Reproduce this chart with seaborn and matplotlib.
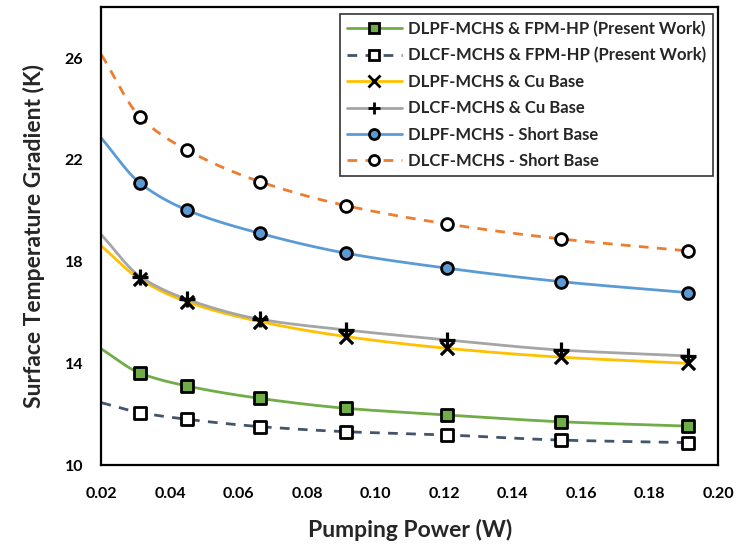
import numpy as np
import pandas as pd
import matplotlib
matplotlib.use("Agg")
import matplotlib.pyplot as plt
from matplotlib.lines import Line2D
import seaborn as sns

# Pumping power (W); the first value is where each curve begins (no marker)
power = [0.020, 0.0313, 0.0449, 0.0663, 0.0914, 0.1209, 0.1542, 0.1912]

# Surface temperature gradient (K) for each configuration
dlpf_fpm = [14.56, 13.61, 13.11, 12.62, 12.23, 11.97, 11.70, 11.53]
dlcf_fpm = [12.45, 12.06, 11.80, 11.51, 11.31, 11.18, 10.98, 10.88]
dlpf_cu = [18.61, 17.30, 16.42, 15.64, 15.05, 14.59, 14.24, 14.00]
dlcf_cu = [19.05, 17.41, 16.52, 15.73, 15.31, 14.92, 14.52, 14.29]
dlpf_short = [22.85, 21.08, 20.03, 19.11, 18.33, 17.74, 17.21, 16.78]
dlcf_short = [26.13, 23.68, 22.39, 21.14, 20.20, 19.48, 18.89, 18.42]

series_names = [
    "DLPF-MCHS & FPM-HP (Present Work)",
    "DLCF-MCHS & FPM-HP (Present Work)",
    "DLPF-MCHS & Cu Base",
    "DLCF-MCHS & Cu Base",
    "DLPF-MCHS - Short Base",
    "DLCF-MCHS - Short Base",
]

x_ticks = [0.02, 0.04, 0.06, 0.08, 0.10, 0.12, 0.14, 0.16, 0.18, 0.20]
y_ticks = [10, 14, 18, 22, 26]

styles = [
    dict(values=dlpf_fpm, color="#70AD47", ls="-", marker="s", face="#70AD47", ms=8.0),
    dict(values=dlcf_fpm, color="#44546A", ls=(0, (3.5, 3.0)), marker="s", face="white", ms=8.0),
    dict(values=dlpf_cu, color="#FFC000", ls="-", marker="x", face="black", ms=9.5),
    dict(values=dlcf_cu, color="#A5A5A5", ls="-", marker="+", face="black", ms=11.0),
    dict(values=dlpf_short, color="#5B9BD5", ls="-", marker="o", face="#5B9BD5", ms=8.5),
    dict(values=dlcf_short, color="#ED7D31", ls=(0, (3.5, 3.0)), marker="o", face="white", ms=8.5),
]


def smooth(xs, ys, n=40):
    """Cubic Hermite smoothing through the points (spreadsheet-style smooth line)."""
    xs = np.asarray(xs, float)
    ys = np.asarray(ys, float)
    m = np.zeros_like(ys)
    d = np.diff(ys) / np.diff(xs)
    m[0], m[-1] = d[0], d[-1]
    for i in range(1, len(xs) - 1):
        if d[i - 1] * d[i] <= 0:
            m[i] = 0.0
        else:
            w1 = 2 * (xs[i + 1] - xs[i]) + (xs[i] - xs[i - 1])
            w2 = (xs[i + 1] - xs[i]) + 2 * (xs[i] - xs[i - 1])
            m[i] = (w1 + w2) / (w1 / d[i - 1] + w2 / d[i])
    out_x, out_y = [], []
    for i in range(len(xs) - 1):
        h = xs[i + 1] - xs[i]
        t = np.linspace(0, 1, n, endpoint=(i == len(xs) - 2))
        h00 = 2 * t**3 - 3 * t**2 + 1
        h10 = t**3 - 2 * t**2 + t
        h01 = -2 * t**3 + 3 * t**2
        h11 = t**3 - t**2
        out_x.append(xs[i] + t * h)
        out_y.append(h00 * ys[i] + h10 * h * m[i] + h01 * ys[i + 1] + h11 * h * m[i + 1])
    return np.concatenate(out_x), np.concatenate(out_y)


sns.set_theme(style="white")
plt.rcParams["font.family"] = ["Lato", "DejaVu Sans"]

fig = plt.figure(figsize=(7.45, 5.44), dpi=100)
ax = fig.add_axes([0.1362, 0.1452, 0.8275, 0.8414])

handles = []
for name, st in zip(series_names, styles):
    sx, sy = smooth(power, st["values"])
    curve = pd.DataFrame({"x": sx, "y": sy})
    sns.lineplot(data=curve, x="x", y="y", ax=ax, color=st["color"], lw=2.0,
                 linestyle=st["ls"], sort=False, estimator=None, zorder=2)
    pts = pd.DataFrame({"x": power[1:], "y": st["values"][1:]})
    if st["marker"] in ("x", "+"):
        sns.scatterplot(data=pts, x="x", y="y", ax=ax, marker=st["marker"],
                        s=st["ms"] ** 2, color="black", linewidth=2.3, zorder=3)
    else:
        sns.scatterplot(data=pts, x="x", y="y", ax=ax, marker=st["marker"],
                        s=st["ms"] ** 2, facecolor=st["face"], edgecolor="black",
                        linewidth=2.0, zorder=3)
    handles.append(Line2D([], [], color=st["color"], lw=2.0, linestyle=st["ls"],
                          marker=st["marker"], markersize=st["ms"] * 0.85,
                          markerfacecolor=st["face"], markeredgecolor="black",
                          markeredgewidth=2.0, label=name))

ax.set_xlim(0.02, 0.20)
ax.set_ylim(10, 28)
ax.set_xticks(x_ticks)
ax.set_xticklabels([f"{v:.2f}" for v in x_ticks])
ax.set_yticks(y_ticks)
ax.set_yticklabels([str(v) for v in y_ticks])

for sp in ax.spines.values():
    sp.set_visible(True)
    sp.set_color("black")
    sp.set_linewidth(1.6)

ax.tick_params(axis="both", direction="in", length=4, width=1.6, color="black",
               labelsize=11.5, labelcolor="black")
ax.tick_params(axis="x", pad=16)
ax.tick_params(axis="y", pad=13)
for lbl in ax.get_xticklabels() + ax.get_yticklabels():
    lbl.set_fontweight("bold")

ax.set_xlabel("Pumping Power (W)", fontsize=16.5, fontweight="bold", labelpad=13)
ax.set_ylabel("Surface Temperature Gradient (K)", fontsize=16.5, fontweight="bold",
              labelpad=14)

leg = ax.legend(handles=handles, loc="upper right", bbox_to_anchor=(0.9919, 0.985),
                borderaxespad=0, frameon=True, fancybox=False,
                prop={"weight": "bold", "size": 12}, handlelength=3.3,
                handletextpad=0.4, labelspacing=0.62, borderpad=0.4)
leg.get_frame().set_edgecolor("black")
leg.get_frame().set_linewidth(1.2)

fig.savefig("out.png", dpi=100)
